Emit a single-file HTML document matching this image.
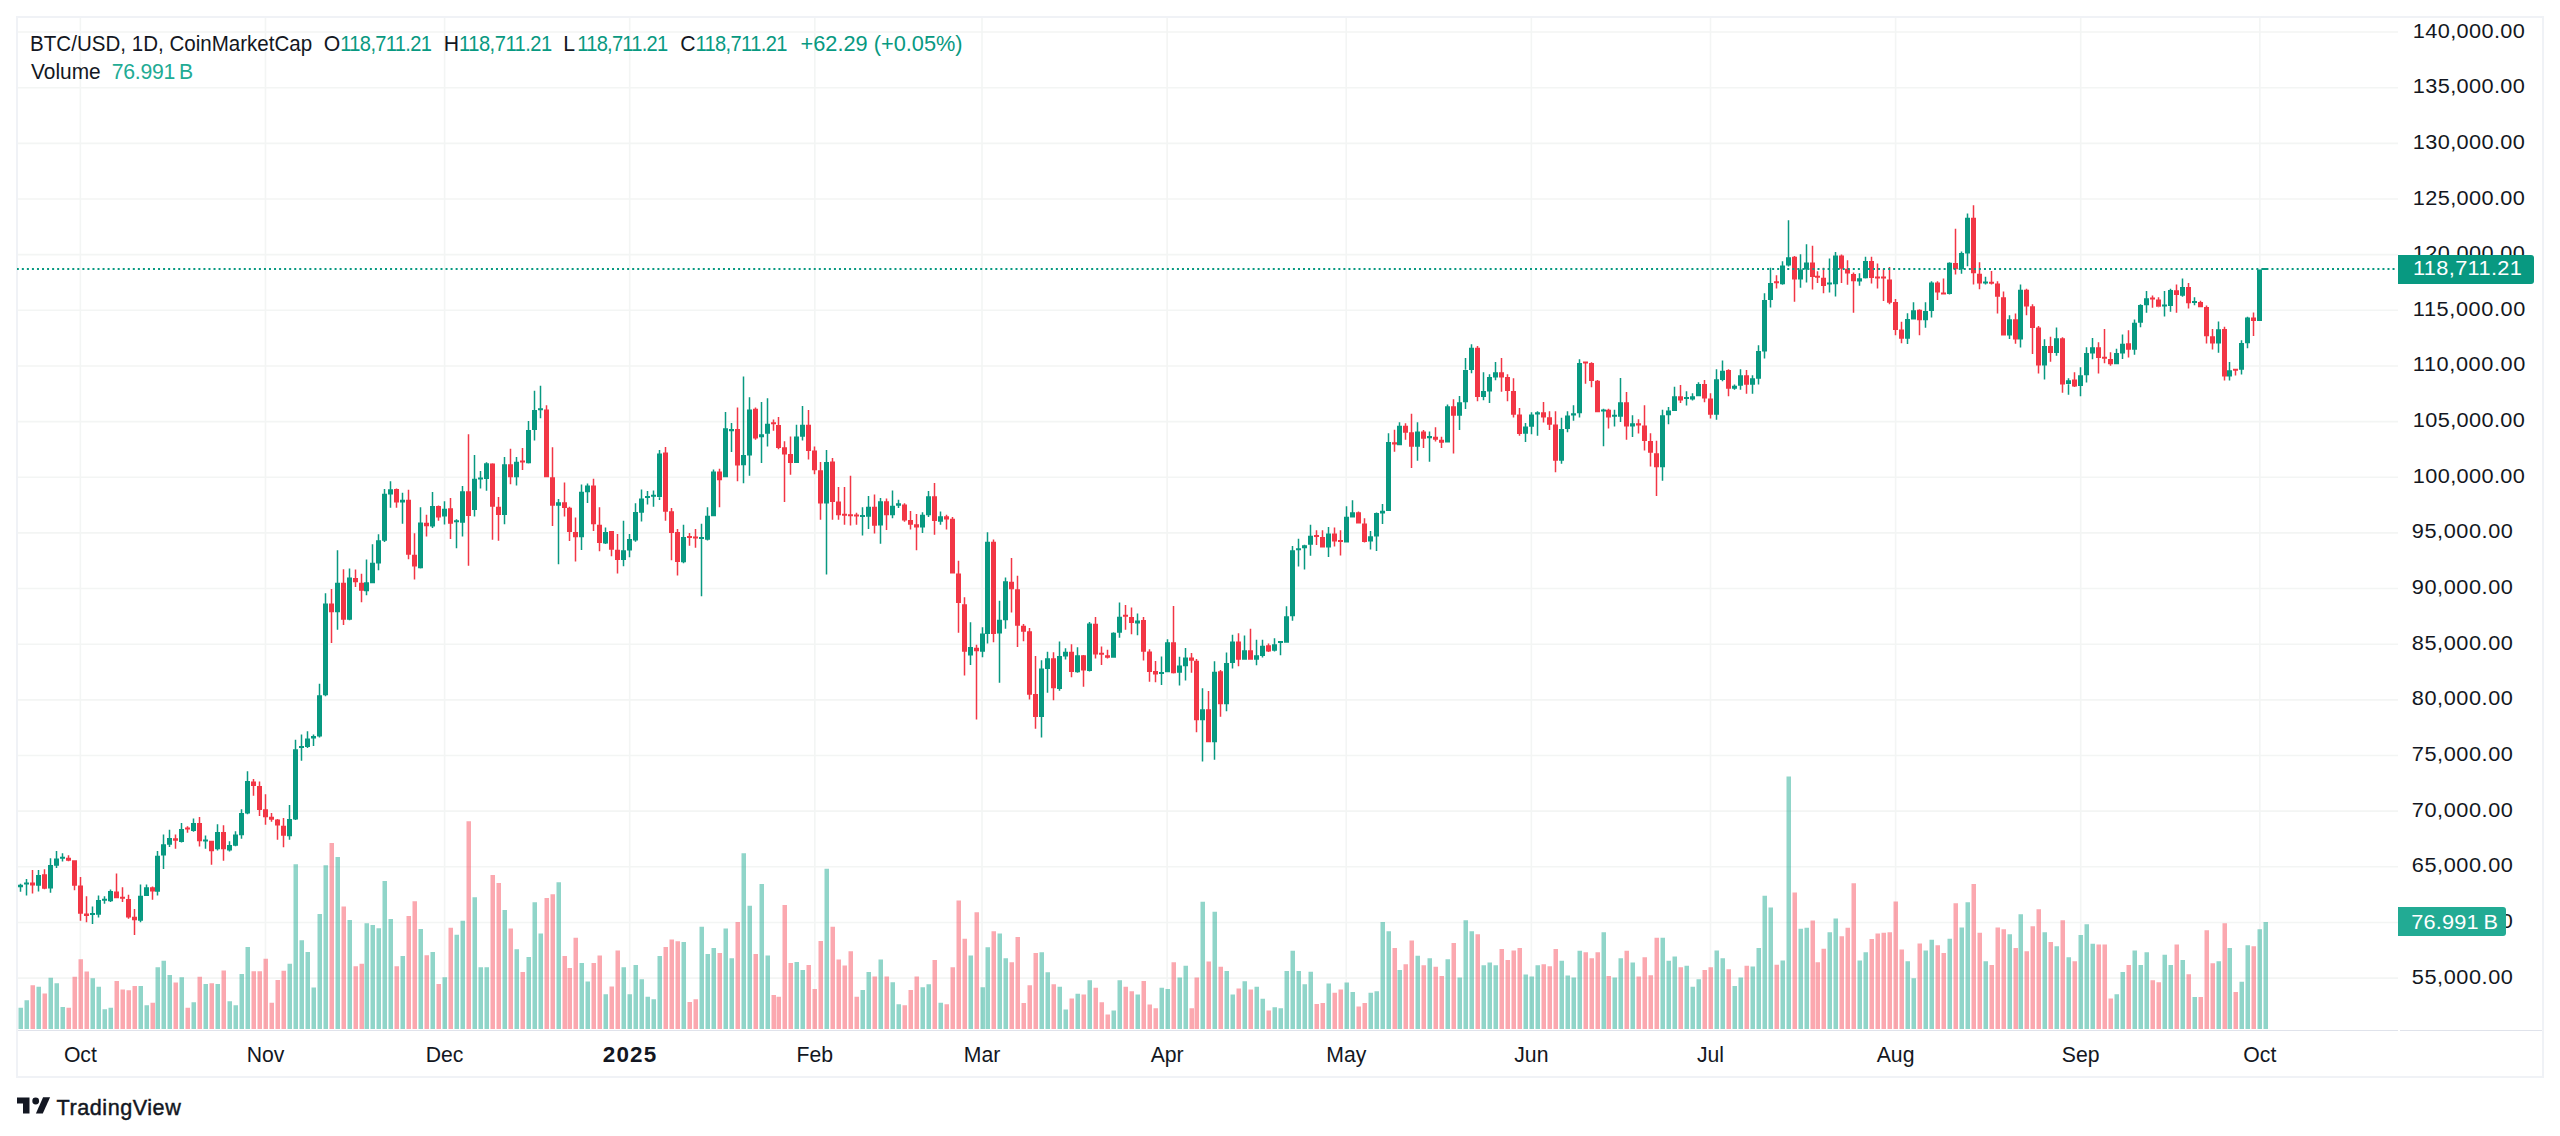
<!DOCTYPE html><html><head><meta charset="utf-8"><title>BTC/USD Chart</title><style>html,body{margin:0;padding:0;background:#ffffff;width:2560px;height:1136px;overflow:hidden}body{position:relative}</style></head><body><svg width="2560" height="1136" viewBox="0 0 2560 1136" style="position:absolute;left:0;top:0;font-family:'Liberation Sans', Arial, sans-serif">
<defs><clipPath id="pane"><rect x="17" y="18" width="2381" height="1011"/></clipPath></defs>
<path fill="#f3f5f4" d="M18 31.25h2380v1.6h-2380zM18 86.90h2380v1.6h-2380zM18 142.55h2380v1.6h-2380zM18 198.20h2380v1.6h-2380zM18 253.85h2380v1.6h-2380zM18 309.50h2380v1.6h-2380zM18 365.15h2380v1.6h-2380zM18 420.80h2380v1.6h-2380zM18 476.45h2380v1.6h-2380zM18 532.10h2380v1.6h-2380zM18 587.75h2380v1.6h-2380zM18 643.40h2380v1.6h-2380zM18 699.05h2380v1.6h-2380zM18 754.70h2380v1.6h-2380zM18 810.35h2380v1.6h-2380zM18 866.00h2380v1.6h-2380zM18 921.65h2380v1.6h-2380zM18 977.30h2380v1.6h-2380zM79.56 18h1.6v1011h-1.6zM264.67 18h1.6v1011h-1.6zM443.80 18h1.6v1011h-1.6zM628.91 18h1.6v1011h-1.6zM814.02 18h1.6v1011h-1.6zM981.21 18h1.6v1011h-1.6zM1166.32 18h1.6v1011h-1.6zM1345.45 18h1.6v1011h-1.6zM1530.56 18h1.6v1011h-1.6zM1709.70 18h1.6v1011h-1.6zM1894.80 18h1.6v1011h-1.6zM2079.91 18h1.6v1011h-1.6zM2259.05 18h1.6v1011h-1.6z"/>
<path fill="#f0f2f6" d="M16 16h2528v2h-2528zM16 1076h2528v2h-2528zM16 16h2v1062h-2zM2542 16h2v1062h-2z"/>
<path fill="#e0e3eb" d="M18 1030h2380v1h-2380zM2400 1030h142v1h-142z"/>
<g clip-path="url(#pane)"><path fill="rgba(34,171,148,0.5)" d="M18.5 1007.82h4.5v21.18h-4.5zM24.5 1000.17h4.5v28.83h-4.5zM36.5 986.84h4.5v42.16h-4.5zM48.5 977.65h4.5v51.35h-4.5zM54.5 983.31h4.5v45.69h-4.5zM60.5 1007.06h4.5v21.94h-4.5zM90.5 978.26h4.5v50.74h-4.5zM96.5 986.84h4.5v42.16h-4.5zM102.5 1009.36h4.5v19.64h-4.5zM108.5 1007.82h4.5v21.18h-4.5zM138.5 985.92h4.5v43.08h-4.5zM144.5 1005.22h4.5v23.78h-4.5zM155.5 967.23h4.5v61.77h-4.5zM161.5 960.80h4.5v68.20h-4.5zM167.5 974.89h4.5v54.11h-4.5zM179.5 977.19h4.5v51.81h-4.5zM191.5 1002.16h4.5v26.84h-4.5zM203.5 984.08h4.5v44.92h-4.5zM215.5 984.08h4.5v44.92h-4.5zM227.5 1001.24h4.5v27.76h-4.5zM233.5 1005.22h4.5v23.78h-4.5zM239.5 974.12h4.5v54.88h-4.5zM245.5 947.01h4.5v81.99h-4.5zM287.5 963.79h4.5v65.21h-4.5zM293.5 864.22h4.5v164.78h-4.5zM299.5 940.13h4.5v88.87h-4.5zM305.5 951.96h4.5v77.04h-4.5zM311.5 987.44h4.5v41.56h-4.5zM317.5 914.10h4.5v114.90h-4.5zM323.5 865.21h4.5v163.79h-4.5zM335.5 856.92h4.5v172.08h-4.5zM347.5 920.02h4.5v108.98h-4.5zM364.5 923.37h4.5v105.63h-4.5zM370.5 924.94h4.5v104.06h-4.5zM376.5 928.30h4.5v100.70h-4.5zM382.5 880.98h4.5v148.02h-4.5zM388.5 919.03h4.5v109.97h-4.5zM400.5 955.90h4.5v73.10h-4.5zM418.5 928.89h4.5v100.11h-4.5zM430.5 951.96h4.5v77.04h-4.5zM442.5 977.19h4.5v51.81h-4.5zM454.5 934.80h4.5v94.20h-4.5zM460.5 920.80h4.5v108.20h-4.5zM472.5 897.15h4.5v131.85h-4.5zM478.5 967.14h4.5v61.86h-4.5zM484.5 967.14h4.5v61.86h-4.5zM502.5 910.01h4.5v118.99h-4.5zM514.5 949.29h4.5v79.71h-4.5zM526.5 956.97h4.5v72.03h-4.5zM532.5 902.33h4.5v126.67h-4.5zM538.5 933.58h4.5v95.42h-4.5zM556.5 882.18h4.5v146.82h-4.5zM579.5 962.95h4.5v66.05h-4.5zM585.5 981.39h4.5v47.61h-4.5zM603.5 994.20h4.5v34.80h-4.5zM621.5 967.22h4.5v61.78h-4.5zM627.5 994.20h4.5v34.80h-4.5zM633.5 965.00h4.5v64.00h-4.5zM639.5 979.17h4.5v49.83h-4.5zM645.5 996.76h4.5v32.24h-4.5zM651.5 999.15h4.5v29.85h-4.5zM657.5 956.12h4.5v72.88h-4.5zM681.5 942.12h4.5v86.88h-4.5zM699.5 926.75h4.5v102.25h-4.5zM705.5 954.07h4.5v74.93h-4.5zM711.5 947.92h4.5v81.08h-4.5zM723.5 928.46h4.5v100.54h-4.5zM729.5 958.17h4.5v70.83h-4.5zM741.5 853.32h4.5v175.68h-4.5zM747.5 905.74h4.5v123.26h-4.5zM759.5 884.06h4.5v144.94h-4.5zM765.5 955.61h4.5v73.39h-4.5zM794.5 962.10h4.5v66.90h-4.5zM800.5 970.12h4.5v58.88h-4.5zM824.5 868.69h4.5v160.31h-4.5zM860.5 989.93h4.5v39.07h-4.5zM866.5 972.00h4.5v57.00h-4.5zM878.5 959.54h4.5v69.46h-4.5zM890.5 982.25h4.5v46.75h-4.5zM896.5 1004.28h4.5v24.72h-4.5zM920.5 987.20h4.5v41.80h-4.5zM926.5 984.30h4.5v44.70h-4.5zM938.5 1002.74h4.5v26.26h-4.5zM968.5 955.61h4.5v73.39h-4.5zM980.5 987.20h4.5v41.80h-4.5zM985.5 947.24h4.5v81.76h-4.5zM997.5 933.58h4.5v95.42h-4.5zM1003.5 958.17h4.5v70.83h-4.5zM1039.5 952.36h4.5v76.64h-4.5zM1045.5 972.34h4.5v56.66h-4.5zM1057.5 986.86h4.5v42.14h-4.5zM1063.5 1009.57h4.5v19.43h-4.5zM1075.5 993.69h4.5v35.31h-4.5zM1087.5 980.37h4.5v48.63h-4.5zM1111.5 1010.42h4.5v18.58h-4.5zM1117.5 980.37h4.5v48.63h-4.5zM1135.5 994.54h4.5v34.46h-4.5zM1159.5 987.71h4.5v41.29h-4.5zM1165.5 989.08h4.5v39.92h-4.5zM1177.5 977.47h4.5v51.53h-4.5zM1183.5 965.85h4.5v63.15h-4.5zM1200.5 901.82h4.5v127.18h-4.5zM1212.5 911.72h4.5v117.28h-4.5zM1224.5 970.98h4.5v58.02h-4.5zM1230.5 994.54h4.5v34.46h-4.5zM1242.5 981.22h4.5v47.78h-4.5zM1254.5 986.86h4.5v42.14h-4.5zM1260.5 998.81h4.5v30.19h-4.5zM1272.5 1007.35h4.5v21.65h-4.5zM1278.5 1008.20h4.5v20.80h-4.5zM1284.5 970.98h4.5v58.02h-4.5zM1290.5 950.66h4.5v78.34h-4.5zM1296.5 970.98h4.5v58.02h-4.5zM1302.5 984.30h4.5v44.70h-4.5zM1308.5 971.83h4.5v57.17h-4.5zM1326.5 983.44h4.5v45.56h-4.5zM1344.5 982.59h4.5v46.41h-4.5zM1350.5 991.98h4.5v37.02h-4.5zM1368.5 992.83h4.5v36.17h-4.5zM1374.5 991.13h4.5v37.87h-4.5zM1380.5 921.97h4.5v107.03h-4.5zM1386.5 931.36h4.5v97.64h-4.5zM1397.5 970.12h4.5v58.88h-4.5zM1415.5 955.78h4.5v73.22h-4.5zM1427.5 958.17h4.5v70.83h-4.5zM1445.5 959.19h4.5v69.81h-4.5zM1457.5 977.47h4.5v51.53h-4.5zM1463.5 920.26h4.5v108.74h-4.5zM1469.5 931.36h4.5v97.64h-4.5zM1481.5 965.17h4.5v63.83h-4.5zM1487.5 962.44h4.5v66.56h-4.5zM1493.5 965.17h4.5v63.83h-4.5zM1523.5 974.39h4.5v54.61h-4.5zM1529.5 976.61h4.5v52.39h-4.5zM1535.5 965.17h4.5v63.83h-4.5zM1559.5 960.73h4.5v68.27h-4.5zM1565.5 975.42h4.5v53.58h-4.5zM1571.5 977.47h4.5v51.53h-4.5zM1577.5 950.66h4.5v78.34h-4.5zM1601.5 932.21h4.5v96.79h-4.5zM1612.5 977.47h4.5v51.53h-4.5zM1618.5 958.17h4.5v70.83h-4.5zM1630.5 962.44h4.5v66.56h-4.5zM1660.5 937.85h4.5v91.15h-4.5zM1666.5 960.73h4.5v68.27h-4.5zM1672.5 956.46h4.5v72.54h-4.5zM1684.5 965.85h4.5v63.15h-4.5zM1690.5 986.86h4.5v42.14h-4.5zM1696.5 979.17h4.5v49.83h-4.5zM1714.5 950.43h4.5v78.57h-4.5zM1720.5 958.22h4.5v70.78h-4.5zM1732.5 986.05h4.5v42.95h-4.5zM1738.5 977.56h4.5v51.44h-4.5zM1750.5 966.47h4.5v62.53h-4.5zM1756.5 948.08h4.5v80.92h-4.5zM1762.5 895.72h4.5v133.28h-4.5zM1768.5 907.51h4.5v121.49h-4.5zM1780.5 960.58h4.5v68.42h-4.5zM1786.5 776.61h4.5v252.39h-4.5zM1798.5 928.74h4.5v100.26h-4.5zM1804.5 927.79h4.5v101.21h-4.5zM1827.5 932.27h4.5v96.73h-4.5zM1833.5 918.59h4.5v110.41h-4.5zM1857.5 960.58h4.5v68.42h-4.5zM1863.5 952.32h4.5v76.68h-4.5zM1905.5 961.28h4.5v67.72h-4.5zM1911.5 978.26h4.5v50.74h-4.5zM1923.5 950.43h4.5v78.57h-4.5zM1929.5 939.82h4.5v89.18h-4.5zM1947.5 938.70h4.5v90.30h-4.5zM1959.5 927.60h4.5v101.40h-4.5zM1965.5 902.33h4.5v126.67h-4.5zM1983.5 961.24h4.5v67.76h-4.5zM2007.5 934.26h4.5v94.74h-4.5zM2018.5 914.28h4.5v114.72h-4.5zM2042.5 932.21h4.5v96.79h-4.5zM2054.5 946.22h4.5v82.78h-4.5zM2066.5 957.14h4.5v71.86h-4.5zM2078.5 935.12h4.5v93.88h-4.5zM2084.5 924.19h4.5v104.81h-4.5zM2090.5 943.65h4.5v85.35h-4.5zM2114.5 994.20h4.5v34.80h-4.5zM2120.5 972.00h4.5v57.00h-4.5zM2132.5 950.48h4.5v78.52h-4.5zM2138.5 965.00h4.5v64.00h-4.5zM2144.5 952.19h4.5v76.81h-4.5zM2162.5 954.75h4.5v74.25h-4.5zM2168.5 965.00h4.5v64.00h-4.5zM2180.5 959.88h4.5v69.12h-4.5zM2192.5 997.10h4.5v31.90h-4.5zM2216.5 961.24h4.5v67.76h-4.5zM2227.5 948.09h4.5v80.91h-4.5zM2239.5 981.73h4.5v47.27h-4.5zM2245.5 945.36h4.5v83.64h-4.5zM2257.5 929.31h4.5v99.69h-4.5zM2263.5 921.97h4.5v107.03h-4.5z"/><path fill="rgba(247,82,95,0.5)" d="M30.5 985.31h4.5v43.69h-4.5zM42.5 993.58h4.5v35.42h-4.5zM66.5 1007.82h4.5v21.18h-4.5zM72.5 976.73h4.5v52.27h-4.5zM78.5 959.26h4.5v69.74h-4.5zM84.5 971.52h4.5v57.48h-4.5zM114.5 981.02h4.5v47.98h-4.5zM120.5 989.44h4.5v39.56h-4.5zM126.5 990.21h4.5v38.79h-4.5zM132.5 985.92h4.5v43.08h-4.5zM150.5 1002.77h4.5v26.23h-4.5zM173.5 982.55h4.5v46.45h-4.5zM185.5 1007.82h4.5v21.18h-4.5zM197.5 976.73h4.5v52.27h-4.5zM209.5 983.31h4.5v45.69h-4.5zM221.5 970.60h4.5v58.40h-4.5zM251.5 971.28h4.5v57.72h-4.5zM257.5 971.28h4.5v57.72h-4.5zM263.5 958.86h4.5v70.14h-4.5zM269.5 1002.82h4.5v26.18h-4.5zM275.5 979.95h4.5v49.05h-4.5zM281.5 970.69h4.5v58.31h-4.5zM329.5 843.12h4.5v185.88h-4.5zM341.5 906.61h4.5v122.39h-4.5zM353.5 966.15h4.5v62.85h-4.5zM359.5 963.79h4.5v65.21h-4.5zM394.5 966.15h4.5v62.85h-4.5zM406.5 915.88h4.5v113.12h-4.5zM412.5 901.29h4.5v127.71h-4.5zM424.5 955.31h4.5v73.69h-4.5zM436.5 983.90h4.5v45.10h-4.5zM448.5 927.71h4.5v101.29h-4.5zM466.5 821.24h4.5v207.76h-4.5zM490.5 875.01h4.5v153.99h-4.5zM496.5 883.03h4.5v145.97h-4.5zM508.5 928.46h4.5v100.54h-4.5zM520.5 972.00h4.5v57.00h-4.5zM544.5 898.06h4.5v130.94h-4.5zM550.5 894.13h4.5v134.87h-4.5zM562.5 956.12h4.5v72.88h-4.5zM567.5 968.07h4.5v60.93h-4.5zM573.5 937.85h4.5v91.15h-4.5zM591.5 962.95h4.5v66.05h-4.5zM597.5 955.61h4.5v73.39h-4.5zM609.5 986.52h4.5v42.48h-4.5zM615.5 950.48h4.5v78.52h-4.5zM663.5 947.07h4.5v81.93h-4.5zM669.5 939.39h4.5v89.61h-4.5zM675.5 941.26h4.5v87.74h-4.5zM687.5 1001.89h4.5v27.11h-4.5zM693.5 999.32h4.5v29.68h-4.5zM717.5 953.05h4.5v75.95h-4.5zM735.5 921.97h4.5v107.03h-4.5zM753.5 954.07h4.5v74.93h-4.5zM771.5 995.05h4.5v33.95h-4.5zM776.5 996.76h4.5v32.24h-4.5zM782.5 904.89h4.5v124.11h-4.5zM788.5 962.95h4.5v66.05h-4.5zM806.5 965.00h4.5v64.00h-4.5zM812.5 989.08h4.5v39.92h-4.5zM818.5 941.09h4.5v87.91h-4.5zM830.5 926.75h4.5v102.25h-4.5zM836.5 959.54h4.5v69.46h-4.5zM842.5 965.51h4.5v63.49h-4.5zM848.5 951.34h4.5v77.66h-4.5zM854.5 996.76h4.5v32.24h-4.5zM872.5 976.61h4.5v52.39h-4.5zM884.5 976.61h4.5v52.39h-4.5zM902.5 1005.13h4.5v23.87h-4.5zM908.5 989.93h4.5v39.07h-4.5zM914.5 976.61h4.5v52.39h-4.5zM932.5 959.88h4.5v69.12h-4.5zM944.5 1004.28h4.5v24.72h-4.5zM950.5 967.22h4.5v61.78h-4.5zM956.5 900.62h4.5v128.38h-4.5zM962.5 938.70h4.5v90.30h-4.5zM974.5 912.23h4.5v116.77h-4.5zM991.5 931.36h4.5v97.64h-4.5zM1009.5 962.27h4.5v66.73h-4.5zM1015.5 936.99h4.5v92.01h-4.5zM1021.5 1003.08h4.5v25.92h-4.5zM1027.5 985.15h4.5v43.85h-4.5zM1033.5 953.05h4.5v75.95h-4.5zM1051.5 984.30h4.5v44.70h-4.5zM1069.5 998.47h4.5v30.53h-4.5zM1081.5 994.54h4.5v34.46h-4.5zM1093.5 987.71h4.5v41.29h-4.5zM1099.5 1002.23h4.5v26.77h-4.5zM1105.5 1014.52h4.5v14.48h-4.5zM1123.5 986.86h4.5v42.14h-4.5zM1129.5 991.13h4.5v37.87h-4.5zM1141.5 981.05h4.5v47.95h-4.5zM1147.5 1004.45h4.5v24.55h-4.5zM1153.5 1008.20h4.5v20.80h-4.5zM1171.5 962.27h4.5v66.73h-4.5zM1189.5 1008.20h4.5v20.80h-4.5zM1194.5 977.47h4.5v51.53h-4.5zM1206.5 961.58h4.5v67.42h-4.5zM1218.5 966.71h4.5v62.29h-4.5zM1236.5 988.57h4.5v40.43h-4.5zM1248.5 989.42h4.5v39.58h-4.5zM1266.5 1010.42h4.5v18.58h-4.5zM1314.5 1003.93h4.5v25.07h-4.5zM1320.5 1003.08h4.5v25.92h-4.5zM1332.5 992.83h4.5v36.17h-4.5zM1338.5 989.42h4.5v39.58h-4.5zM1356.5 1006.50h4.5v22.50h-4.5zM1362.5 1003.08h4.5v25.92h-4.5zM1392.5 948.09h4.5v80.91h-4.5zM1403.5 964.32h4.5v64.68h-4.5zM1409.5 940.41h4.5v88.59h-4.5zM1421.5 965.17h4.5v63.83h-4.5zM1433.5 966.71h4.5v62.29h-4.5zM1439.5 976.10h4.5v52.90h-4.5zM1451.5 942.97h4.5v86.03h-4.5zM1475.5 934.26h4.5v94.74h-4.5zM1499.5 948.95h4.5v80.05h-4.5zM1505.5 959.88h4.5v69.12h-4.5zM1511.5 950.48h4.5v78.52h-4.5zM1517.5 948.09h4.5v80.91h-4.5zM1541.5 964.32h4.5v64.68h-4.5zM1547.5 966.37h4.5v62.63h-4.5zM1553.5 948.95h4.5v80.05h-4.5zM1583.5 952.36h4.5v76.64h-4.5zM1589.5 958.17h4.5v70.83h-4.5zM1595.5 952.36h4.5v76.64h-4.5zM1606.5 976.10h4.5v52.90h-4.5zM1624.5 950.66h4.5v78.34h-4.5zM1636.5 976.61h4.5v52.39h-4.5zM1642.5 957.32h4.5v71.68h-4.5zM1648.5 975.25h4.5v53.75h-4.5zM1654.5 937.85h4.5v91.15h-4.5zM1678.5 967.22h4.5v61.78h-4.5zM1702.5 970.12h4.5v58.88h-4.5zM1708.5 967.18h4.5v61.82h-4.5zM1726.5 969.30h4.5v59.70h-4.5zM1744.5 965.76h4.5v63.24h-4.5zM1774.5 964.82h4.5v64.18h-4.5zM1792.5 892.42h4.5v136.58h-4.5zM1810.5 920.48h4.5v108.52h-4.5zM1815.5 962.23h4.5v66.77h-4.5zM1821.5 948.78h4.5v80.22h-4.5zM1839.5 936.28h4.5v92.72h-4.5zM1845.5 927.79h4.5v101.21h-4.5zM1851.5 883.22h4.5v145.78h-4.5zM1869.5 938.88h4.5v90.12h-4.5zM1875.5 933.45h4.5v95.55h-4.5zM1881.5 932.75h4.5v96.25h-4.5zM1887.5 932.27h4.5v96.73h-4.5zM1893.5 901.61h4.5v127.39h-4.5zM1899.5 949.49h4.5v79.51h-4.5zM1917.5 943.59h4.5v85.41h-4.5zM1935.5 945.36h4.5v83.64h-4.5zM1941.5 953.05h4.5v75.95h-4.5zM1953.5 903.18h4.5v125.82h-4.5zM1971.5 883.89h4.5v145.11h-4.5zM1977.5 932.73h4.5v96.27h-4.5zM1989.5 965.00h4.5v64.00h-4.5zM1995.5 927.60h4.5v101.40h-4.5zM2001.5 929.14h4.5v99.86h-4.5zM2013.5 947.92h4.5v81.08h-4.5zM2024.5 951.34h4.5v77.66h-4.5zM2030.5 926.24h4.5v102.76h-4.5zM2036.5 909.16h4.5v119.84h-4.5zM2048.5 942.12h4.5v86.88h-4.5zM2060.5 920.26h4.5v108.74h-4.5zM2072.5 961.24h4.5v67.76h-4.5zM2096.5 944.51h4.5v84.49h-4.5zM2102.5 944.51h4.5v84.49h-4.5zM2108.5 998.47h4.5v30.53h-4.5zM2126.5 965.00h4.5v64.00h-4.5zM2150.5 980.37h4.5v48.63h-4.5zM2156.5 982.25h4.5v46.75h-4.5zM2174.5 944.51h4.5v84.49h-4.5zM2186.5 974.22h4.5v54.78h-4.5zM2198.5 997.10h4.5v31.90h-4.5zM2204.5 930.16h4.5v98.84h-4.5zM2210.5 963.29h4.5v65.71h-4.5zM2222.5 923.33h4.5v105.67h-4.5zM2233.5 991.98h4.5v37.02h-4.5zM2251.5 946.22h4.5v82.78h-4.5z"/>
<path fill="#089981" d="M12 877.00h5v6.00h-5zM13.75 875.00h1.5v2.00h-1.5zM13.75 883.00h1.5v3.00h-1.5zM18 884.71h5v2.64h-5zM19.75 883.83h1.5v0.88h-1.5zM19.75 887.35h1.5v4.40h-1.5zM24 882.44h5v2.00h-5zM25.75 878.88h1.5v3.57h-1.5zM25.75 884.44h1.5v10.94h-1.5zM36 875.02h5v10.78h-5zM37.75 870.07h1.5v4.95h-1.5zM37.75 885.81h1.5v5.72h-1.5zM48 865.12h5v23.33h-5zM49.75 858.30h1.5v6.82h-1.5zM49.75 888.45h1.5v4.18h-1.5zM54 858.52h5v7.15h-5zM55.75 851.03h1.5v7.48h-1.5zM55.75 865.67h1.5v2.42h-1.5zM60 856.69h5v2.00h-5zM61.75 853.23h1.5v3.46h-1.5zM61.75 858.69h1.5v2.91h-1.5zM90 912.98h5v2.00h-5zM91.75 906.39h1.5v6.59h-1.5zM91.75 914.98h1.5v9.01h-1.5zM96 900.11h5v14.53h-5zM97.75 895.38h1.5v4.73h-1.5zM97.75 914.64h1.5v2.75h-1.5zM102 898.78h5v2.00h-5zM103.75 896.15h1.5v2.63h-1.5zM103.75 900.78h1.5v2.85h-1.5zM108 890.98h5v10.23h-5zM109.75 889.55h1.5v1.43h-1.5zM109.75 901.21h1.5v0.77h-1.5zM138 895.71h5v24.98h-5zM139.75 884.38h1.5v11.33h-1.5zM139.75 920.69h1.5v1.65h-1.5zM144 887.13h5v8.80h-5zM145.75 884.38h1.5v2.75h-1.5zM155 855.77h5v35.99h-5zM156.75 851.03h1.5v4.73h-1.5zM156.75 891.75h1.5v3.63h-1.5zM161 844.19h5v11.34h-5zM162.75 834.57h1.5v9.61h-1.5zM162.75 855.53h1.5v13.56h-1.5zM167 838.02h5v6.78h-5zM168.75 829.64h1.5v8.38h-1.5zM168.75 844.80h1.5v2.10h-1.5zM179 829.03h5v12.94h-5zM180.75 823.11h1.5v5.92h-1.5zM180.75 841.97h1.5v0.62h-1.5zM191 823.11h5v7.77h-5zM192.75 818.55h1.5v4.56h-1.5zM192.75 830.87h1.5v0.86h-1.5zM203 839.43h5v2.00h-5zM204.75 835.43h1.5v3.99h-1.5zM204.75 841.43h1.5v7.32h-1.5zM215 832.11h5v17.26h-5zM216.75 824.34h1.5v7.77h-1.5zM216.75 849.36h1.5v1.23h-1.5zM227 845.05h5v5.55h-5zM228.75 841.35h1.5v3.70h-1.5zM228.75 850.60h1.5v0.86h-1.5zM233 834.57h5v11.09h-5zM234.75 831.24h1.5v3.33h-1.5zM234.75 845.66h1.5v0.62h-1.5zM239 813.00h5v22.19h-5zM240.75 809.30h1.5v3.70h-1.5zM240.75 835.19h1.5v3.45h-1.5zM245 780.95h5v32.66h-5zM246.75 771.34h1.5v9.61h-1.5zM246.75 813.62h1.5v0.62h-1.5zM287 818.92h5v17.26h-5zM288.75 804.99h1.5v13.93h-1.5zM288.75 836.17h1.5v3.70h-1.5zM293 749.20h5v70.20h-5zM294.75 739.70h1.5v9.50h-1.5zM294.75 819.40h1.5v0.60h-1.5zM299 746.00h5v2.11h-5zM300.75 734.38h1.5v11.62h-1.5zM300.75 748.11h1.5v12.68h-1.5zM305 738.61h5v8.45h-5zM306.75 731.21h1.5v7.39h-1.5zM306.75 747.06h1.5v1.06h-1.5zM311 736.07h5v2.54h-5zM312.75 734.38h1.5v1.69h-1.5zM312.75 738.61h1.5v7.39h-1.5zM317 695.29h5v41.20h-5zM318.75 683.67h1.5v11.62h-1.5zM318.75 736.49h1.5v1.06h-1.5zM323 603.38h5v91.91h-5zM324.75 593.24h1.5v10.14h-1.5zM324.75 695.29h1.5v1.06h-1.5zM335 582.68h5v29.58h-5zM336.75 550.14h1.5v32.54h-1.5zM336.75 612.26h1.5v17.54h-1.5zM347 577.61h5v42.26h-5zM348.75 568.52h1.5v9.09h-1.5zM348.75 619.86h1.5v0.42h-1.5zM364 582.26h5v8.87h-5zM365.75 559.44h1.5v22.82h-1.5zM365.75 591.13h1.5v4.23h-1.5zM370 562.82h5v20.49h-5zM371.75 544.23h1.5v18.59h-1.5zM376 540.35h5v23.24h-5zM377.75 534.19h1.5v6.16h-1.5zM377.75 563.59h1.5v6.69h-1.5zM382 493.70h5v47.01h-5zM383.75 488.94h1.5v4.75h-1.5zM383.75 540.70h1.5v1.41h-1.5zM388 489.30h5v5.28h-5zM389.75 481.37h1.5v7.92h-1.5zM389.75 494.58h1.5v13.20h-1.5zM400 499.86h5v2.64h-5zM401.75 492.82h1.5v7.04h-1.5zM401.75 502.50h1.5v21.13h-1.5zM418 522.39h5v45.77h-5zM419.75 507.25h1.5v15.14h-1.5zM419.75 568.17h1.5v0.35h-1.5zM430 506.02h5v20.60h-5zM431.75 492.11h1.5v13.91h-1.5zM431.75 526.62h1.5v1.41h-1.5zM442 508.66h5v7.92h-5zM443.75 501.27h1.5v7.39h-1.5zM443.75 516.58h1.5v7.92h-1.5zM454 520.25h5v2.00h-5zM455.75 519.23h1.5v1.02h-1.5zM455.75 522.25h1.5v26.02h-1.5zM460 491.28h5v31.55h-5zM461.75 486.06h1.5v5.23h-1.5zM461.75 522.83h1.5v13.55h-1.5zM472 478.70h5v31.35h-5zM473.75 455.09h1.5v23.61h-1.5zM473.75 510.06h1.5v6.39h-1.5zM478 477.41h5v2.00h-5zM479.75 470.96h1.5v6.45h-1.5zM479.75 479.41h1.5v8.97h-1.5zM484 463.22h5v15.87h-5zM485.75 462.25h1.5v0.97h-1.5zM485.75 479.09h1.5v11.61h-1.5zM502 464.19h5v50.90h-5zM503.75 457.03h1.5v7.16h-1.5zM503.75 515.09h1.5v9.10h-1.5zM514 461.67h5v15.48h-5zM515.75 457.03h1.5v4.64h-1.5zM515.75 477.16h1.5v8.32h-1.5zM526 429.93h5v33.29h-5zM527.75 421.03h1.5v8.90h-1.5zM527.75 463.22h1.5v0.39h-1.5zM532 410.00h5v19.93h-5zM533.75 390.64h1.5v19.35h-1.5zM533.75 429.93h1.5v10.45h-1.5zM538 408.32h5v2.00h-5zM539.75 385.81h1.5v22.51h-1.5zM539.75 410.32h1.5v8.00h-1.5zM556 502.31h5v3.48h-5zM557.75 499.02h1.5v3.29h-1.5zM557.75 505.80h1.5v58.45h-1.5zM579 491.86h5v45.29h-5zM580.75 484.51h1.5v7.35h-1.5zM580.75 537.15h1.5v12.77h-1.5zM585 485.48h5v6.77h-5zM586.75 483.54h1.5v1.94h-1.5zM586.75 492.25h1.5v10.64h-1.5zM603 531.93h5v11.61h-5zM604.75 527.47h1.5v4.45h-1.5zM604.75 543.54h1.5v0.58h-1.5zM621 550.16h5v9.72h-5zM622.75 520.81h1.5v29.35h-1.5zM622.75 559.88h1.5v6.48h-1.5zM627 539.03h5v11.54h-5zM628.75 533.97h1.5v5.06h-1.5zM628.75 550.57h1.5v6.68h-1.5zM633 512.11h5v28.34h-5zM634.75 503.20h1.5v8.91h-1.5zM634.75 540.45h1.5v1.21h-1.5zM639 498.54h5v14.17h-5zM640.75 489.43h1.5v9.11h-1.5zM640.75 512.71h1.5v8.70h-1.5zM645 495.91h5v2.02h-5zM646.75 491.05h1.5v4.86h-1.5zM646.75 497.94h1.5v6.68h-1.5zM651 494.81h5v2.00h-5zM652.75 490.45h1.5v4.36h-1.5zM652.75 496.81h1.5v9.83h-1.5zM657 453.40h5v43.72h-5zM658.75 449.96h1.5v3.44h-1.5zM658.75 497.13h1.5v2.83h-1.5zM681 537.00h5v25.30h-5zM682.75 524.86h1.5v12.15h-1.5zM682.75 562.31h1.5v1.01h-1.5zM699 537.00h5v2.02h-5zM700.75 523.85h1.5v13.16h-1.5zM700.75 539.03h1.5v57.29h-1.5zM705 515.75h5v23.89h-5zM706.75 507.25h1.5v8.50h-1.5zM706.75 539.64h1.5v0.81h-1.5zM711 471.62h5v44.53h-5zM712.75 469.60h1.5v2.02h-1.5zM723 428.30h5v48.99h-5zM724.75 412.11h1.5v16.19h-1.5zM729 429.11h5v2.02h-5zM730.75 423.04h1.5v6.07h-1.5zM730.75 431.13h1.5v20.85h-1.5zM741 455.02h5v10.12h-5zM742.75 376.48h1.5v78.54h-1.5zM742.75 465.14h1.5v18.22h-1.5zM747 409.47h5v45.95h-5zM748.75 397.33h1.5v12.15h-1.5zM748.75 455.43h1.5v20.24h-1.5zM759 434.37h5v2.83h-5zM760.75 401.98h1.5v32.39h-1.5zM760.75 437.21h1.5v25.91h-1.5zM765 423.64h5v10.12h-5zM766.75 398.34h1.5v25.30h-1.5zM766.75 433.77h1.5v12.75h-1.5zM794 436.40h5v26.72h-5zM795.75 424.66h1.5v11.74h-1.5zM800 424.66h5v12.15h-5zM801.75 406.03h1.5v18.62h-1.5zM801.75 436.80h1.5v3.64h-1.5zM824 462.11h5v41.50h-5zM825.75 449.96h1.5v12.15h-1.5zM825.75 503.60h1.5v70.85h-1.5zM860 515.05h5v2.00h-5zM861.75 507.25h1.5v7.81h-1.5zM861.75 517.05h1.5v18.53h-1.5zM866 506.64h5v10.12h-5zM867.75 495.91h1.5v10.73h-1.5zM867.75 516.76h1.5v12.15h-1.5zM878 501.17h5v24.29h-5zM879.75 497.94h1.5v3.24h-1.5zM879.75 525.47h1.5v18.22h-1.5zM890 505.63h5v9.72h-5zM891.75 490.45h1.5v15.18h-1.5zM891.75 515.34h1.5v2.83h-1.5zM896 503.28h5v2.38h-5zM897.75 499.71h1.5v3.57h-1.5zM897.75 505.65h1.5v2.38h-1.5zM920 514.69h5v12.84h-5zM921.75 512.31h1.5v2.38h-1.5zM921.75 527.52h1.5v5.47h-1.5zM926 496.15h5v19.02h-5zM927.75 490.92h1.5v5.23h-1.5zM927.75 515.16h1.5v1.90h-1.5zM938 516.35h5v5.47h-5zM939.75 511.60h1.5v4.75h-1.5zM939.75 521.82h1.5v2.85h-1.5zM968 647.09h5v8.32h-5zM969.75 622.13h1.5v24.96h-1.5zM969.75 655.41h1.5v9.51h-1.5zM980 633.54h5v18.30h-5zM981.75 627.36h1.5v6.18h-1.5zM981.75 651.84h1.5v5.47h-1.5zM985 541.79h5v92.23h-5zM986.75 532.28h1.5v9.51h-1.5zM986.75 634.01h1.5v9.51h-1.5zM997 619.75h5v13.79h-5zM998.75 600.73h1.5v19.02h-1.5zM998.75 633.54h1.5v49.20h-1.5zM1003 581.24h5v38.98h-5zM1004.75 577.44h1.5v3.80h-1.5zM1004.75 620.23h1.5v8.56h-1.5zM1039 668.60h5v48.49h-5zM1040.75 660.23h1.5v8.36h-1.5zM1040.75 717.09h1.5v20.40h-1.5zM1045 658.23h5v10.70h-5zM1046.75 651.87h1.5v6.35h-1.5zM1046.75 668.93h1.5v23.91h-1.5zM1057 656.05h5v32.94h-5zM1058.75 641.51h1.5v14.55h-1.5zM1058.75 689.00h1.5v1.67h-1.5zM1063 651.87h5v4.68h-5zM1064.75 648.19h1.5v3.68h-1.5zM1064.75 656.56h1.5v2.84h-1.5zM1075 655.22h5v17.06h-5zM1076.75 647.19h1.5v8.03h-1.5zM1076.75 672.27h1.5v0.50h-1.5zM1087 623.44h5v47.66h-5zM1088.75 622.11h1.5v1.34h-1.5zM1088.75 671.10h1.5v0.50h-1.5zM1111 632.64h5v25.08h-5zM1112.75 632.14h1.5v0.50h-1.5zM1117 616.76h5v15.89h-5zM1118.75 602.54h1.5v14.21h-1.5zM1118.75 632.64h1.5v5.02h-1.5zM1135 620.43h5v3.01h-5zM1136.75 613.41h1.5v7.02h-1.5zM1136.75 623.44h1.5v11.71h-1.5zM1159 672.11h5v2.00h-5zM1160.75 656.56h1.5v15.56h-1.5zM1160.75 674.11h1.5v10.87h-1.5zM1165 642.17h5v30.10h-5zM1166.75 639.33h1.5v2.84h-1.5zM1177 665.59h5v7.26h-5zM1178.75 656.79h1.5v8.80h-1.5zM1178.75 672.85h1.5v12.54h-1.5zM1183 657.45h5v8.80h-5zM1184.75 648.00h1.5v9.46h-1.5zM1184.75 666.25h1.5v14.30h-1.5zM1200 709.14h5v11.00h-5zM1201.75 688.24h1.5v20.89h-1.5zM1201.75 720.13h1.5v41.35h-1.5zM1212 671.75h5v70.38h-5zM1213.75 661.19h1.5v10.56h-1.5zM1213.75 742.12h1.5v17.59h-1.5zM1224 662.95h5v41.35h-5zM1225.75 652.39h1.5v10.56h-1.5zM1225.75 704.30h1.5v7.04h-1.5zM1230 641.40h5v21.55h-5zM1231.75 634.80h1.5v6.60h-1.5zM1231.75 662.95h1.5v5.50h-1.5zM1242 650.20h5v9.46h-5zM1243.75 635.46h1.5v14.73h-1.5zM1254 655.25h5v4.40h-5zM1255.75 639.86h1.5v15.39h-1.5zM1255.75 659.65h1.5v5.50h-1.5zM1260 645.80h5v10.12h-5zM1261.75 639.86h1.5v5.94h-1.5zM1261.75 655.91h1.5v1.54h-1.5zM1272 644.26h5v6.60h-5zM1273.75 638.32h1.5v5.94h-1.5zM1273.75 650.86h1.5v0.66h-1.5zM1278 641.06h5v2.00h-5zM1279.75 643.06h1.5v12.20h-1.5zM1284 616.33h5v26.39h-5zM1285.75 606.21h1.5v10.12h-1.5zM1290 550.35h5v65.98h-5zM1291.75 545.95h1.5v4.40h-1.5zM1291.75 616.33h1.5v4.40h-1.5zM1296 548.15h5v2.20h-5zM1297.75 538.69h1.5v9.46h-1.5zM1297.75 550.35h1.5v16.27h-1.5zM1302 545.29h5v2.86h-5zM1303.75 544.63h1.5v0.66h-1.5zM1303.75 548.15h1.5v21.33h-1.5zM1308 535.83h5v8.80h-5zM1309.75 524.84h1.5v11.00h-1.5zM1309.75 544.63h1.5v11.00h-1.5zM1326 533.53h5v13.92h-5zM1327.75 526.95h1.5v6.59h-1.5zM1327.75 547.46h1.5v9.43h-1.5zM1344 516.77h5v25.75h-5zM1345.75 506.29h1.5v10.48h-1.5zM1350 512.28h5v5.24h-5zM1351.75 500.30h1.5v11.98h-1.5zM1368 536.23h5v5.24h-5zM1369.75 530.99h1.5v5.24h-1.5zM1369.75 541.47h1.5v7.93h-1.5zM1374 513.02h5v23.50h-5zM1375.75 512.57h1.5v0.45h-1.5zM1375.75 536.53h1.5v14.37h-1.5zM1380 510.78h5v2.69h-5zM1381.75 504.04h1.5v6.74h-1.5zM1381.75 513.47h1.5v10.48h-1.5zM1386 441.92h5v69.16h-5zM1387.75 433.23h1.5v8.68h-1.5zM1397 425.75h5v19.46h-5zM1398.75 422.16h1.5v3.59h-1.5zM1415 431.44h5v15.27h-5zM1416.75 422.16h1.5v9.28h-1.5zM1416.75 446.71h1.5v13.92h-1.5zM1427 435.93h5v2.25h-5zM1428.75 431.44h1.5v4.49h-1.5zM1428.75 438.17h1.5v23.50h-1.5zM1445 406.32h5v36.18h-5zM1446.75 404.61h1.5v1.72h-1.5zM1457 402.36h5v13.47h-5zM1458.75 396.02h1.5v6.34h-1.5zM1458.75 415.83h1.5v14.26h-1.5zM1463 369.88h5v32.48h-5zM1464.75 357.99h1.5v11.88h-1.5zM1464.75 402.36h1.5v6.60h-1.5zM1469 347.83h5v22.05h-5zM1470.75 344.26h1.5v3.57h-1.5zM1470.75 369.88h1.5v3.43h-1.5zM1481 391.01h5v6.07h-5zM1482.75 372.26h1.5v18.75h-1.5zM1482.75 397.08h1.5v3.17h-1.5zM1487 376.88h5v14.53h-5zM1488.75 374.24h1.5v2.64h-1.5zM1488.75 391.40h1.5v11.49h-1.5zM1493 372.26h5v5.28h-5zM1494.75 361.96h1.5v10.30h-1.5zM1494.75 377.54h1.5v2.64h-1.5zM1523 426.40h5v7.26h-5zM1524.75 423.09h1.5v3.30h-1.5zM1524.75 433.66h1.5v8.32h-1.5zM1529 414.51h5v12.15h-5zM1530.75 412.13h1.5v2.38h-1.5zM1530.75 426.66h1.5v7.66h-1.5zM1535 412.13h5v2.38h-5zM1536.75 411.21h1.5v0.92h-1.5zM1536.75 414.51h1.5v21.13h-1.5zM1559 429.04h5v31.69h-5zM1560.75 417.81h1.5v11.22h-1.5zM1560.75 460.73h1.5v2.91h-1.5zM1565 415.57h5v13.47h-5zM1566.75 411.21h1.5v4.36h-1.5zM1566.75 429.04h1.5v3.30h-1.5zM1571 413.19h5v2.38h-5zM1572.75 405.27h1.5v7.92h-1.5zM1572.75 415.57h1.5v5.28h-1.5zM1577 363.01h5v50.18h-5zM1578.75 359.31h1.5v3.70h-1.5zM1578.75 413.19h1.5v4.23h-1.5zM1601 409.54h5v2.00h-5zM1602.75 408.76h1.5v0.78h-1.5zM1602.75 411.54h1.5v34.59h-1.5zM1612 414.63h5v2.00h-5zM1613.75 409.69h1.5v4.94h-1.5zM1613.75 416.63h1.5v9.96h-1.5zM1618 402.16h5v14.53h-5zM1619.75 377.99h1.5v24.16h-1.5zM1619.75 416.68h1.5v5.28h-1.5zM1630 423.29h5v3.30h-5zM1631.75 415.36h1.5v7.92h-1.5zM1631.75 426.59h1.5v10.30h-1.5zM1660 415.36h5v51.89h-5zM1661.75 409.69h1.5v5.68h-1.5zM1661.75 467.26h1.5v13.47h-1.5zM1666 410.48h5v4.89h-5zM1667.75 407.04h1.5v3.43h-1.5zM1667.75 415.36h1.5v8.85h-1.5zM1672 396.22h5v14.79h-5zM1673.75 386.71h1.5v9.51h-1.5zM1684 397.07h5v2.00h-5zM1685.75 391.20h1.5v5.87h-1.5zM1685.75 399.07h1.5v6.39h-1.5zM1690 396.22h5v3.30h-5zM1691.75 393.31h1.5v2.91h-1.5zM1691.75 399.52h1.5v0.92h-1.5zM1696 384.07h5v12.15h-5zM1697.75 382.35h1.5v1.72h-1.5zM1714 379.31h5v35.39h-5zM1715.75 369.15h1.5v10.17h-1.5zM1715.75 414.70h1.5v5.02h-1.5zM1720 370.77h5v9.15h-5zM1721.75 360.56h1.5v10.21h-1.5zM1721.75 379.93h1.5v1.41h-1.5zM1732 385.74h5v2.99h-5zM1733.75 384.51h1.5v1.23h-1.5zM1733.75 388.73h1.5v1.06h-1.5zM1738 375.18h5v10.56h-5zM1739.75 369.37h1.5v5.81h-1.5zM1739.75 385.74h1.5v4.05h-1.5zM1750 378.17h5v6.69h-5zM1751.75 375.18h1.5v2.99h-1.5zM1751.75 384.86h1.5v8.80h-1.5zM1756 351.06h5v27.64h-5zM1757.75 345.25h1.5v5.81h-1.5zM1757.75 378.70h1.5v5.81h-1.5zM1762 300.00h5v51.41h-5zM1763.75 293.31h1.5v6.69h-1.5zM1763.75 351.41h1.5v7.04h-1.5zM1768 283.10h5v16.90h-5zM1769.75 267.78h1.5v15.32h-1.5zM1769.75 300.00h1.5v7.39h-1.5zM1780 265.49h5v18.66h-5zM1781.75 261.27h1.5v4.23h-1.5zM1781.75 284.15h1.5v0.70h-1.5zM1786 257.22h5v8.27h-5zM1787.75 220.25h1.5v36.97h-1.5zM1787.75 265.49h1.5v1.06h-1.5zM1798 269.54h5v10.04h-5zM1799.75 254.23h1.5v15.32h-1.5zM1799.75 279.58h1.5v8.10h-1.5zM1804 262.50h5v7.04h-5zM1805.75 244.37h1.5v18.13h-1.5zM1805.75 269.54h1.5v12.85h-1.5zM1827 282.45h5v2.00h-5zM1828.75 258.45h1.5v24.00h-1.5zM1828.75 284.45h1.5v7.98h-1.5zM1833 255.46h5v28.70h-5zM1834.75 251.94h1.5v3.52h-1.5zM1834.75 284.15h1.5v12.32h-1.5zM1857 278.17h5v3.43h-5zM1858.75 273.29h1.5v4.89h-1.5zM1858.75 281.61h1.5v4.23h-1.5zM1863 261.01h5v17.17h-5zM1864.75 256.78h1.5v4.23h-1.5zM1864.75 278.17h1.5v0.40h-1.5zM1905 319.11h5v19.54h-5zM1906.75 313.30h1.5v5.81h-1.5zM1906.75 338.65h1.5v5.28h-1.5zM1911 310.26h5v9.24h-5zM1912.75 302.34h1.5v7.92h-1.5zM1923 310.92h5v9.24h-5zM1924.75 302.34h1.5v8.58h-1.5zM1924.75 320.16h1.5v7.66h-1.5zM1929 282.53h5v28.39h-5zM1930.75 281.21h1.5v1.32h-1.5zM1930.75 310.92h1.5v6.60h-1.5zM1947 262.72h5v31.30h-5zM1948.75 262.33h1.5v0.40h-1.5zM1948.75 294.02h1.5v0.40h-1.5zM1959 253.08h5v16.24h-5zM1960.75 251.50h1.5v1.58h-1.5zM1960.75 269.33h1.5v4.36h-1.5zM1965 217.83h5v35.65h-5zM1966.75 213.47h1.5v4.36h-1.5zM1966.75 253.48h1.5v12.81h-1.5zM1983 281.53h5v2.00h-5zM1984.75 276.85h1.5v4.68h-1.5zM1984.75 283.53h1.5v0.98h-1.5zM2007 319.16h5v16.37h-5zM2008.75 315.20h1.5v3.96h-1.5zM2008.75 335.53h1.5v3.43h-1.5zM2018 289.71h5v49.78h-5zM2019.75 284.43h1.5v5.28h-1.5zM2019.75 339.49h1.5v7.92h-1.5zM2042 346.10h5v19.28h-5zM2043.75 339.23h1.5v6.87h-1.5zM2043.75 365.37h1.5v14.13h-1.5zM2054 338.17h5v14.92h-5zM2055.75 327.61h1.5v10.56h-1.5zM2055.75 353.09h1.5v2.64h-1.5zM2066 380.16h5v3.96h-5zM2067.75 378.18h1.5v1.98h-1.5zM2067.75 384.13h1.5v10.56h-1.5zM2078 375.15h5v10.96h-5zM2079.75 367.22h1.5v7.92h-1.5zM2079.75 386.11h1.5v10.17h-1.5zM2084 353.09h5v22.05h-5zM2085.75 347.15h1.5v5.94h-1.5zM2085.75 375.15h1.5v7.39h-1.5zM2090 347.15h5v6.34h-5zM2091.75 337.91h1.5v9.24h-1.5zM2091.75 353.49h1.5v5.81h-1.5zM2114 353.09h5v11.22h-5zM2115.75 348.74h1.5v4.36h-1.5zM2120 343.85h5v9.64h-5zM2121.75 334.61h1.5v9.24h-1.5zM2121.75 353.49h1.5v5.55h-1.5zM2132 322.72h5v27.07h-5zM2133.75 319.42h1.5v3.30h-1.5zM2133.75 349.79h1.5v5.02h-1.5zM2138 304.90h5v17.83h-5zM2139.75 304.24h1.5v0.66h-1.5zM2139.75 322.72h1.5v4.62h-1.5zM2144 298.29h5v6.87h-5zM2145.75 291.03h1.5v7.26h-1.5zM2145.75 305.16h1.5v7.66h-1.5zM2162 304.56h5v2.00h-5zM2163.75 291.03h1.5v13.53h-1.5zM2163.75 306.56h1.5v9.96h-1.5zM2168 290.11h5v15.85h-5zM2169.75 288.79h1.5v1.32h-1.5zM2169.75 305.95h1.5v5.81h-1.5zM2180 287.07h5v8.58h-5zM2181.75 278.49h1.5v8.58h-1.5zM2181.75 295.65h1.5v1.06h-1.5zM2192 301.06h5v2.00h-5zM2193.75 297.24h1.5v3.82h-1.5zM2193.75 303.06h1.5v2.10h-1.5zM2216 329.33h5v14.13h-5zM2217.75 321.40h1.5v7.92h-1.5zM2217.75 343.45h1.5v9.24h-1.5zM2227 370.26h5v6.21h-5zM2228.75 361.94h1.5v8.32h-1.5zM2228.75 376.47h1.5v3.96h-1.5zM2239 342.93h5v26.94h-5zM2240.75 340.29h1.5v2.64h-1.5zM2240.75 369.86h1.5v4.75h-1.5zM2245 317.44h5v25.75h-5zM2246.75 316.78h1.5v0.66h-1.5zM2246.75 343.19h1.5v5.02h-1.5zM2257 269.51h5v51.50h-5zM2263 268h5v2h-5z"/><path fill="#F23645" d="M30 882.51h5v2.97h-5zM31.75 870.07h1.5v12.44h-1.5zM31.75 885.48h1.5v8.03h-1.5zM42 874.25h5v14.53h-5zM43.75 869.30h1.5v4.95h-1.5zM43.75 888.78h1.5v0.55h-1.5zM66 857.64h5v3.08h-5zM67.75 855.22h1.5v2.42h-1.5zM67.75 860.72h1.5v0.55h-1.5zM72 860.17h5v25.64h-5zM73.75 885.81h1.5v4.40h-1.5zM78 885.48h5v28.28h-5zM79.75 877.00h1.5v8.47h-1.5zM79.75 913.76h1.5v6.93h-1.5zM84 913.54h5v2.42h-5zM85.75 896.15h1.5v17.39h-1.5zM85.75 915.96h1.5v6.38h-1.5zM114 891.53h5v6.82h-5zM115.75 873.59h1.5v17.94h-1.5zM120 896.86h5v2.00h-5zM121.75 887.13h1.5v9.73h-1.5zM121.75 898.86h1.5v3.13h-1.5zM126 899.01h5v18.38h-5zM127.75 894.83h1.5v4.18h-1.5zM127.75 917.39h1.5v1.43h-1.5zM132 916.84h5v3.52h-5zM133.75 908.92h1.5v7.92h-1.5zM133.75 920.36h1.5v14.64h-1.5zM150 887.35h5v4.18h-5zM151.75 886.58h1.5v0.77h-1.5zM151.75 891.53h1.5v8.25h-1.5zM173 838.27h5v2.47h-5zM174.75 834.57h1.5v3.70h-1.5zM174.75 840.73h1.5v8.01h-1.5zM185 827.41h5v2.00h-5zM186.75 826.19h1.5v1.22h-1.5zM186.75 829.41h1.5v3.31h-1.5zM197 823.11h5v18.24h-5zM198.75 816.95h1.5v6.16h-1.5zM198.75 841.35h1.5v5.18h-1.5zM209 840.73h5v10.48h-5zM210.75 851.21h1.5v13.56h-1.5zM221 832.11h5v17.26h-5zM222.75 825.33h1.5v6.78h-1.5zM222.75 849.36h1.5v11.46h-1.5zM251 781.57h5v4.31h-5zM252.75 779.11h1.5v2.47h-1.5zM252.75 785.88h1.5v9.86h-1.5zM257 785.88h5v24.04h-5zM258.75 781.57h1.5v4.31h-1.5zM258.75 809.92h1.5v6.16h-1.5zM263 809.30h5v8.01h-5zM264.75 794.27h1.5v15.04h-1.5zM264.75 817.32h1.5v7.40h-1.5zM269 816.70h5v3.08h-5zM270.75 813.00h1.5v3.70h-1.5zM270.75 819.78h1.5v1.85h-1.5zM275 819.41h5v6.16h-5zM276.75 818.92h1.5v0.49h-1.5zM276.75 825.57h1.5v14.30h-1.5zM281 825.70h5v10.11h-5zM282.75 817.93h1.5v7.77h-1.5zM282.75 835.80h1.5v11.46h-1.5zM329 603.38h5v8.87h-5zM330.75 589.02h1.5v14.37h-1.5zM330.75 612.26h1.5v30.64h-1.5zM341 582.68h5v37.19h-5zM342.75 569.16h1.5v13.52h-1.5zM342.75 619.86h1.5v5.07h-1.5zM353 578.03h5v4.23h-5zM354.75 569.58h1.5v8.45h-1.5zM354.75 582.26h1.5v4.65h-1.5zM359 582.68h5v8.03h-5zM360.75 573.81h1.5v8.87h-1.5zM360.75 590.71h1.5v11.62h-1.5zM394 488.94h5v13.56h-5zM395.75 488.42h1.5v0.53h-1.5zM395.75 502.50h1.5v5.28h-1.5zM406 499.86h5v54.93h-5zM407.75 489.65h1.5v10.21h-1.5zM407.75 554.79h1.5v4.58h-1.5zM412 554.79h5v11.62h-5zM413.75 533.31h1.5v21.48h-1.5zM413.75 566.41h1.5v13.03h-1.5zM424 522.75h5v3.52h-5zM425.75 514.82h1.5v7.92h-1.5zM425.75 526.27h1.5v10.21h-1.5zM436 506.02h5v11.44h-5zM437.75 505.49h1.5v0.53h-1.5zM437.75 517.46h1.5v3.17h-1.5zM448 508.31h5v15.32h-5zM449.75 498.10h1.5v10.21h-1.5zM449.75 523.63h1.5v15.32h-1.5zM466 491.28h5v24.77h-5zM467.75 434.19h1.5v57.09h-1.5zM467.75 516.06h1.5v49.74h-1.5zM490 463.61h5v43.16h-5zM491.75 463.22h1.5v0.39h-1.5zM491.75 506.77h1.5v32.90h-1.5zM496 506.77h5v8.32h-5zM497.75 497.09h1.5v9.68h-1.5zM497.75 515.09h1.5v25.55h-1.5zM508 464.19h5v12.97h-5zM509.75 448.71h1.5v15.48h-1.5zM509.75 477.16h1.5v6.97h-1.5zM520 460.58h5v2.00h-5zM521.75 448.12h1.5v12.45h-1.5zM521.75 462.58h1.5v7.42h-1.5zM544 409.42h5v67.74h-5zM545.75 405.16h1.5v4.26h-1.5zM550 477.16h5v28.64h-5zM551.75 447.35h1.5v29.80h-1.5zM551.75 505.80h1.5v20.32h-1.5zM562 502.31h5v5.81h-5zM563.75 482.57h1.5v19.74h-1.5zM563.75 508.12h1.5v8.32h-1.5zM567 507.73h5v24.19h-5zM568.75 506.77h1.5v0.97h-1.5zM568.75 531.93h1.5v9.10h-1.5zM573 531.93h5v5.23h-5zM574.75 517.41h1.5v14.52h-1.5zM574.75 537.15h1.5v24.39h-1.5zM591 485.48h5v38.71h-5zM592.75 478.70h1.5v6.77h-1.5zM592.75 524.18h1.5v6.77h-1.5zM597 524.76h5v18.19h-5zM598.75 507.35h1.5v17.42h-1.5zM598.75 542.96h1.5v8.32h-1.5zM609 530.93h5v18.83h-5zM610.75 549.76h1.5v6.48h-1.5zM615 549.76h5v10.12h-5zM616.75 533.97h1.5v15.79h-1.5zM616.75 559.88h1.5v13.56h-1.5zM663 452.59h5v59.11h-5zM664.75 446.92h1.5v5.67h-1.5zM664.75 511.70h1.5v9.11h-1.5zM669 511.30h5v21.66h-5zM670.75 508.06h1.5v3.24h-1.5zM670.75 532.96h1.5v27.33h-1.5zM675 531.94h5v29.96h-5zM676.75 528.91h1.5v3.04h-1.5zM676.75 561.90h1.5v13.56h-1.5zM687 535.99h5v2.02h-5zM688.75 532.96h1.5v3.04h-1.5zM688.75 538.02h1.5v7.69h-1.5zM693 536.40h5v2.02h-5zM694.75 528.91h1.5v7.49h-1.5zM694.75 538.42h1.5v9.31h-1.5zM717 471.62h5v8.70h-5zM718.75 468.79h1.5v2.83h-1.5zM718.75 480.32h1.5v26.92h-1.5zM735 429.11h5v36.44h-5zM736.75 407.45h1.5v21.66h-1.5zM736.75 465.55h1.5v15.79h-1.5zM753 408.87h5v29.55h-5zM754.75 407.45h1.5v1.42h-1.5zM754.75 438.42h1.5v1.42h-1.5zM771 422.23h5v2.02h-5zM772.75 419.60h1.5v2.63h-1.5zM772.75 424.25h1.5v6.48h-1.5zM776 425.06h5v22.87h-5zM777.75 416.96h1.5v8.10h-1.5zM777.75 447.94h1.5v1.42h-1.5zM782 447.33h5v7.29h-5zM783.75 441.26h1.5v6.07h-1.5zM783.75 454.62h1.5v47.37h-1.5zM788 454.01h5v9.11h-5zM789.75 436.40h1.5v17.61h-1.5zM789.75 463.12h1.5v11.74h-1.5zM806 424.66h5v26.32h-5zM807.75 410.08h1.5v14.57h-1.5zM807.75 450.97h1.5v8.50h-1.5zM812 450.57h5v19.64h-5zM813.75 446.52h1.5v4.05h-1.5zM813.75 470.20h1.5v4.05h-1.5zM818 470.20h5v33.40h-5zM819.75 462.11h1.5v8.10h-1.5zM819.75 503.60h1.5v16.19h-1.5zM830 461.50h5v40.49h-5zM831.75 458.06h1.5v3.44h-1.5zM831.75 501.98h1.5v17.81h-1.5zM836 501.58h5v13.77h-5zM837.75 487.00h1.5v14.57h-1.5zM837.75 515.34h1.5v4.45h-1.5zM842 513.74h5v2.00h-5zM843.75 487.00h1.5v26.73h-1.5zM843.75 515.74h1.5v9.12h-1.5zM848 514.24h5v2.00h-5zM849.75 475.67h1.5v38.57h-1.5zM849.75 516.24h1.5v9.22h-1.5zM854 514.45h5v2.00h-5zM855.75 512.71h1.5v1.73h-1.5zM855.75 516.45h1.5v8.41h-1.5zM872 506.64h5v19.23h-5zM873.75 494.49h1.5v12.15h-1.5zM873.75 525.87h1.5v7.69h-1.5zM884 501.17h5v14.17h-5zM885.75 498.54h1.5v2.63h-1.5zM885.75 515.34h1.5v14.57h-1.5zM902 504.47h5v15.93h-5zM903.75 503.28h1.5v1.19h-1.5zM903.75 520.39h1.5v1.43h-1.5zM908 519.92h5v4.75h-5zM909.75 510.88h1.5v9.03h-1.5zM909.75 524.67h1.5v4.75h-1.5zM914 524.20h5v3.33h-5zM915.75 513.97h1.5v10.22h-1.5zM915.75 527.52h1.5v22.82h-1.5zM932 496.15h5v24.96h-5zM933.75 483.07h1.5v13.07h-1.5zM933.75 521.11h1.5v13.55h-1.5zM944 516.35h5v3.09h-5zM945.75 514.69h1.5v1.66h-1.5zM945.75 519.44h1.5v9.98h-1.5zM950 518.73h5v54.67h-5zM951.75 517.06h1.5v1.66h-1.5zM956 573.40h5v29.71h-5zM957.75 560.80h1.5v12.60h-1.5zM957.75 603.11h1.5v29.71h-1.5zM962 604.30h5v47.54h-5zM963.75 597.17h1.5v7.13h-1.5zM963.75 651.84h1.5v23.77h-1.5zM974 647.80h5v3.33h-5zM975.75 644.71h1.5v3.09h-1.5zM975.75 651.13h1.5v68.46h-1.5zM991 541.79h5v92.23h-5zM992.75 539.41h1.5v2.38h-1.5zM992.75 634.01h1.5v8.32h-1.5zM1009 581.72h5v7.61h-5zM1010.75 557.95h1.5v23.77h-1.5zM1010.75 589.32h1.5v23.29h-1.5zM1015 589.32h5v36.37h-5zM1016.75 575.78h1.5v13.55h-1.5zM1016.75 625.69h1.5v21.39h-1.5zM1021 625.69h5v5.94h-5zM1022.75 624.03h1.5v1.66h-1.5zM1022.75 631.64h1.5v9.51h-1.5zM1027 631.16h5v63.47h-5zM1028.75 628.07h1.5v3.09h-1.5zM1028.75 694.63h1.5v4.75h-1.5zM1033 694.01h5v23.08h-5zM1034.75 656.05h1.5v37.96h-1.5zM1034.75 717.09h1.5v11.71h-1.5zM1051 658.23h5v30.10h-5zM1052.75 652.21h1.5v6.02h-1.5zM1052.75 688.33h1.5v12.04h-1.5zM1069 651.87h5v20.07h-5zM1070.75 644.35h1.5v7.53h-1.5zM1070.75 671.94h1.5v5.35h-1.5zM1081 655.22h5v15.38h-5zM1082.75 654.88h1.5v0.33h-1.5zM1082.75 670.60h1.5v16.05h-1.5zM1093 623.78h5v30.60h-5zM1094.75 617.09h1.5v6.69h-1.5zM1094.75 654.38h1.5v4.18h-1.5zM1099 652.80h5v2.00h-5zM1100.75 646.52h1.5v6.27h-1.5zM1100.75 654.80h1.5v10.12h-1.5zM1105 655.22h5v2.51h-5zM1106.75 649.87h1.5v5.35h-1.5zM1106.75 657.73h1.5v0.84h-1.5zM1123 614.75h5v2.00h-5zM1124.75 605.05h1.5v9.70h-1.5zM1124.75 616.75h1.5v13.05h-1.5zM1129 617.09h5v6.02h-5zM1130.75 607.56h1.5v9.53h-1.5zM1130.75 623.11h1.5v11.20h-1.5zM1141 620.10h5v31.77h-5zM1142.75 617.09h1.5v3.01h-1.5zM1142.75 651.87h1.5v8.70h-1.5zM1147 651.54h5v20.40h-5zM1148.75 649.36h1.5v2.17h-1.5zM1148.75 671.94h1.5v9.70h-1.5zM1153 671.10h5v3.34h-5zM1154.75 661.07h1.5v10.03h-1.5zM1154.75 674.45h1.5v7.86h-1.5zM1171 642.17h5v31.10h-5zM1172.75 605.89h1.5v36.29h-1.5zM1172.75 673.28h1.5v0.33h-1.5zM1189 657.45h5v3.30h-5zM1190.75 653.05h1.5v4.40h-1.5zM1190.75 660.75h1.5v12.10h-1.5zM1194 660.75h5v59.38h-5zM1195.75 658.99h1.5v1.76h-1.5zM1195.75 720.13h1.5v12.10h-1.5zM1206 709.14h5v32.99h-5zM1207.75 691.10h1.5v18.03h-1.5zM1218 671.31h5v32.99h-5zM1219.75 669.99h1.5v1.32h-1.5zM1219.75 704.30h1.5v12.54h-1.5zM1236 641.40h5v18.25h-5zM1237.75 633.26h1.5v8.14h-1.5zM1237.75 659.65h1.5v6.60h-1.5zM1248 650.20h5v9.46h-5zM1249.75 628.86h1.5v21.33h-1.5zM1266 645.36h5v6.16h-5zM1267.75 643.60h1.5v1.76h-1.5zM1267.75 651.52h1.5v0.44h-1.5zM1314 535.00h5v2.00h-5zM1315.75 530.24h1.5v4.76h-1.5zM1315.75 537.00h1.5v7.91h-1.5zM1320 536.98h5v10.48h-5zM1321.75 530.24h1.5v6.74h-1.5zM1332 533.53h5v7.93h-5zM1333.75 527.54h1.5v5.99h-1.5zM1333.75 541.47h1.5v4.94h-1.5zM1338 539.94h5v2.00h-5zM1339.75 530.24h1.5v9.70h-1.5zM1339.75 541.94h1.5v13.45h-1.5zM1356 512.28h5v11.23h-5zM1357.75 511.53h1.5v0.75h-1.5zM1362 523.50h5v18.41h-5zM1363.75 518.26h1.5v5.24h-1.5zM1363.75 541.92h1.5v0.60h-1.5zM1392 442.22h5v2.40h-5zM1393.75 429.64h1.5v12.57h-1.5zM1393.75 444.61h1.5v7.04h-1.5zM1403 425.75h5v6.89h-5zM1404.75 423.20h1.5v2.54h-1.5zM1404.75 432.63h1.5v7.04h-1.5zM1409 432.19h5v14.52h-5zM1410.75 413.77h1.5v18.41h-1.5zM1410.75 446.71h1.5v21.41h-1.5zM1421 431.44h5v7.19h-5zM1422.75 429.94h1.5v1.50h-1.5zM1422.75 438.62h1.5v9.28h-1.5zM1433 436.68h5v2.99h-5zM1434.75 427.25h1.5v9.43h-1.5zM1434.75 439.67h1.5v1.95h-1.5zM1439 439.67h5v2.99h-5zM1440.75 436.68h1.5v2.99h-1.5zM1440.75 442.66h1.5v5.24h-1.5zM1451 406.32h5v9.51h-5zM1452.75 399.33h1.5v7.00h-1.5zM1452.75 415.83h1.5v37.63h-1.5zM1475 347.83h5v49.25h-5zM1476.75 346.11h1.5v1.72h-1.5zM1476.75 397.08h1.5v4.23h-1.5zM1499 372.26h5v5.28h-5zM1500.75 357.99h1.5v14.26h-1.5zM1500.75 377.54h1.5v14.26h-1.5zM1505 376.88h5v14.13h-5zM1506.75 374.24h1.5v2.64h-1.5zM1506.75 391.01h1.5v10.30h-1.5zM1511 391.01h5v23.77h-5zM1512.75 378.20h1.5v12.81h-1.5zM1512.75 414.77h1.5v2.64h-1.5zM1517 414.51h5v19.54h-5zM1518.75 407.91h1.5v6.60h-1.5zM1518.75 434.05h1.5v1.58h-1.5zM1541 412.13h5v5.28h-5zM1542.75 401.97h1.5v10.17h-1.5zM1542.75 417.42h1.5v5.02h-1.5zM1547 417.15h5v7.66h-5zM1548.75 411.21h1.5v5.94h-1.5zM1548.75 424.81h1.5v5.28h-1.5zM1553 424.41h5v36.31h-5zM1554.75 411.21h1.5v13.20h-1.5zM1554.75 460.73h1.5v11.62h-1.5zM1583 361.54h5v2.00h-5zM1584.75 363.54h1.5v20.13h-1.5zM1589 362.94h5v18.09h-5zM1590.75 362.15h1.5v0.79h-1.5zM1590.75 381.03h1.5v6.21h-1.5zM1595 380.64h5v31.69h-5zM1596.75 380.11h1.5v0.53h-1.5zM1606 409.69h5v7.92h-5zM1607.75 408.76h1.5v0.92h-1.5zM1607.75 417.61h1.5v10.96h-1.5zM1624 402.16h5v24.43h-5zM1625.75 391.99h1.5v10.17h-1.5zM1625.75 426.59h1.5v13.20h-1.5zM1636 423.29h5v2.24h-5zM1637.75 419.33h1.5v3.96h-1.5zM1637.75 425.53h1.5v7.92h-1.5zM1642 425.53h5v15.58h-5zM1643.75 405.20h1.5v20.34h-1.5zM1643.75 441.11h1.5v9.51h-1.5zM1648 441.11h5v11.62h-5zM1649.75 433.19h1.5v7.92h-1.5zM1649.75 452.73h1.5v13.73h-1.5zM1654 453.26h5v14.00h-5zM1655.75 440.85h1.5v12.41h-1.5zM1655.75 467.26h1.5v28.65h-1.5zM1678 396.22h5v4.23h-5zM1679.75 384.99h1.5v11.22h-1.5zM1679.75 400.44h1.5v2.64h-1.5zM1702 384.07h5v14.53h-5zM1703.75 380.11h1.5v3.96h-1.5zM1703.75 398.59h1.5v3.57h-1.5zM1708 398.59h5v16.11h-5zM1709.75 393.31h1.5v5.28h-1.5zM1709.75 414.70h1.5v3.70h-1.5zM1726 369.89h5v18.84h-5zM1727.75 369.37h1.5v0.53h-1.5zM1727.75 388.73h1.5v7.57h-1.5zM1744 375.18h5v9.68h-5zM1745.75 369.89h1.5v5.28h-1.5zM1745.75 384.86h1.5v8.80h-1.5zM1774 281.22h5v2.00h-5zM1775.75 275.35h1.5v5.87h-1.5zM1775.75 283.22h1.5v5.16h-1.5zM1792 256.69h5v22.89h-5zM1793.75 255.99h1.5v0.70h-1.5zM1793.75 279.58h1.5v22.18h-1.5zM1810 262.50h5v14.61h-5zM1811.75 245.77h1.5v16.73h-1.5zM1811.75 277.11h1.5v12.32h-1.5zM1815 275.76h5v2.00h-5zM1816.75 271.30h1.5v4.46h-1.5zM1816.75 277.76h1.5v5.34h-1.5zM1821 277.82h5v8.10h-5zM1822.75 267.78h1.5v10.04h-1.5zM1822.75 285.92h1.5v7.39h-1.5zM1839 255.46h5v13.20h-5zM1840.75 254.58h1.5v0.88h-1.5zM1840.75 268.66h1.5v14.44h-1.5zM1845 268.66h5v4.93h-5zM1846.75 260.21h1.5v8.45h-1.5zM1846.75 273.59h1.5v11.27h-1.5zM1851 273.94h5v7.39h-5zM1852.75 272.54h1.5v1.41h-1.5zM1852.75 281.34h1.5v31.34h-1.5zM1869 261.01h5v16.90h-5zM1870.75 256.78h1.5v4.23h-1.5zM1870.75 277.91h1.5v5.55h-1.5zM1875 276.58h5v2.00h-5zM1876.75 263.38h1.5v13.20h-1.5zM1876.75 278.58h1.5v9.89h-1.5zM1881 276.38h5v2.00h-5zM1882.75 268.66h1.5v7.72h-1.5zM1882.75 278.38h1.5v22.64h-1.5zM1887 279.49h5v23.24h-5zM1888.75 267.08h1.5v12.41h-1.5zM1888.75 302.73h1.5v1.58h-1.5zM1893 301.94h5v28.13h-5zM1894.75 299.04h1.5v2.91h-1.5zM1894.75 330.07h1.5v5.28h-1.5zM1899 329.41h5v9.24h-5zM1900.75 321.75h1.5v7.66h-1.5zM1900.75 338.65h1.5v4.62h-1.5zM1917 309.86h5v10.30h-5zM1918.75 309.34h1.5v0.53h-1.5zM1918.75 320.16h1.5v15.19h-1.5zM1935 282.53h5v9.90h-5zM1936.75 281.21h1.5v1.32h-1.5zM1936.75 292.43h1.5v7.66h-1.5zM1941 292.56h5v2.00h-5zM1942.75 278.57h1.5v13.99h-1.5zM1953 263.12h5v6.21h-5zM1954.75 228.79h1.5v34.33h-1.5zM1954.75 269.33h1.5v5.28h-1.5zM1971 217.83h5v55.46h-5zM1972.75 205.28h1.5v12.54h-1.5zM1972.75 273.29h1.5v11.22h-1.5zM1977 273.68h5v9.77h-5zM1978.75 262.33h1.5v11.36h-1.5zM1978.75 283.45h1.5v5.68h-1.5zM1989 281.66h5v2.00h-5zM1990.75 271.04h1.5v10.62h-1.5zM1990.75 283.66h1.5v0.85h-1.5zM1995 283.50h5v13.20h-5zM1996.75 281.13h1.5v2.38h-1.5zM1996.75 296.71h1.5v16.77h-1.5zM2001 297.24h5v38.29h-5zM2002.75 291.43h1.5v5.81h-1.5zM2013 319.16h5v20.34h-5zM2014.75 313.48h1.5v5.68h-1.5zM2014.75 339.49h1.5v4.36h-1.5zM2024 289.71h5v16.77h-5zM2025.75 288.79h1.5v0.92h-1.5zM2025.75 306.48h1.5v8.72h-1.5zM2030 306.22h5v21.79h-5zM2031.75 304.24h1.5v1.98h-1.5zM2031.75 328.00h1.5v26.01h-1.5zM2036 327.61h5v37.77h-5zM2037.75 326.02h1.5v1.58h-1.5zM2037.75 365.37h1.5v8.19h-1.5zM2048 346.10h5v7.00h-5zM2049.75 336.85h1.5v9.24h-1.5zM2049.75 353.09h1.5v8.58h-1.5zM2060 338.17h5v46.22h-5zM2061.75 337.25h1.5v0.92h-1.5zM2061.75 384.39h1.5v8.32h-1.5zM2072 379.50h5v7.00h-5zM2073.75 372.24h1.5v7.26h-1.5zM2073.75 386.50h1.5v0.53h-1.5zM2096 347.15h5v10.83h-5zM2097.75 342.13h1.5v5.02h-1.5zM2097.75 357.98h1.5v15.58h-1.5zM2102 356.72h5v2.00h-5zM2103.75 328.93h1.5v27.79h-1.5zM2103.75 358.72h1.5v4.55h-1.5zM2108 359.04h5v5.28h-5zM2109.75 352.17h1.5v6.87h-1.5zM2109.75 364.32h1.5v1.32h-1.5zM2126 343.19h5v6.60h-5zM2127.75 330.25h1.5v12.94h-1.5zM2127.75 349.79h1.5v7.66h-1.5zM2150 297.62h5v2.00h-5zM2151.75 295.39h1.5v2.24h-1.5zM2151.75 299.62h1.5v8.18h-1.5zM2156 299.61h5v7.26h-5zM2157.75 297.24h1.5v2.38h-1.5zM2157.75 306.88h1.5v0.40h-1.5zM2174 290.37h5v4.62h-5zM2175.75 284.43h1.5v5.94h-1.5zM2175.75 294.99h1.5v17.83h-1.5zM2186 287.07h5v16.24h-5zM2187.75 283.11h1.5v3.96h-1.5zM2187.75 303.31h1.5v5.28h-1.5zM2198 301.99h5v5.28h-5zM2199.75 300.67h1.5v1.32h-1.5zM2204 306.88h5v29.45h-5zM2205.75 305.56h1.5v1.32h-1.5zM2205.75 336.32h1.5v7.13h-1.5zM2210 336.32h5v7.13h-5zM2211.75 328.93h1.5v7.39h-1.5zM2211.75 343.45h1.5v6.07h-1.5zM2222 328.93h5v47.54h-5zM2223.75 326.68h1.5v2.24h-1.5zM2223.75 376.47h1.5v3.96h-1.5zM2233 368.80h5v2.00h-5zM2234.75 370.80h1.5v4.74h-1.5zM2251 317.44h5v3.57h-5zM2252.75 312.56h1.5v4.89h-1.5zM2252.75 321.01h1.5v14.92h-1.5z"/>
<line x1="16.8" y1="269" x2="2395" y2="269" stroke="#089981" stroke-width="2" stroke-dasharray="2 3.044"/>
</g>
<text transform="translate(2412.84 37.55) scale(1.0600 1)" x="0" y="0" style="font-size:20.5px;font-weight:normal;fill:#131722;letter-spacing:0.350px">140,000.00</text>
<text transform="translate(2412.84 93.20) scale(1.0600 1)" x="0" y="0" style="font-size:20.5px;font-weight:normal;fill:#131722;letter-spacing:0.350px">135,000.00</text>
<text transform="translate(2412.84 148.85) scale(1.0600 1)" x="0" y="0" style="font-size:20.5px;font-weight:normal;fill:#131722;letter-spacing:0.350px">130,000.00</text>
<text transform="translate(2412.84 204.50) scale(1.0600 1)" x="0" y="0" style="font-size:20.5px;font-weight:normal;fill:#131722;letter-spacing:0.350px">125,000.00</text>
<text transform="translate(2412.84 260.15) scale(1.0600 1)" x="0" y="0" style="font-size:20.5px;font-weight:normal;fill:#131722;letter-spacing:0.350px">120,000.00</text>
<text transform="translate(2412.84 315.80) scale(1.0600 1)" x="0" y="0" style="font-size:20.5px;font-weight:normal;fill:#131722;letter-spacing:0.572px">115,000.00</text>
<text transform="translate(2412.84 371.45) scale(1.0600 1)" x="0" y="0" style="font-size:20.5px;font-weight:normal;fill:#131722;letter-spacing:0.572px">110,000.00</text>
<text transform="translate(2412.84 427.10) scale(1.0600 1)" x="0" y="0" style="font-size:20.5px;font-weight:normal;fill:#131722;letter-spacing:0.350px">105,000.00</text>
<text transform="translate(2412.84 482.75) scale(1.0600 1)" x="0" y="0" style="font-size:20.5px;font-weight:normal;fill:#131722;letter-spacing:0.350px">100,000.00</text>
<text transform="translate(2411.74 538.40) scale(1.0600 1)" x="0" y="0" style="font-size:20.5px;font-weight:normal;fill:#131722;letter-spacing:0.538px">95,000.00</text>
<text transform="translate(2411.74 594.05) scale(1.0600 1)" x="0" y="0" style="font-size:20.5px;font-weight:normal;fill:#131722;letter-spacing:0.538px">90,000.00</text>
<text transform="translate(2411.74 649.70) scale(1.0600 1)" x="0" y="0" style="font-size:20.5px;font-weight:normal;fill:#131722;letter-spacing:0.538px">85,000.00</text>
<text transform="translate(2411.74 705.35) scale(1.0600 1)" x="0" y="0" style="font-size:20.5px;font-weight:normal;fill:#131722;letter-spacing:0.538px">80,000.00</text>
<text transform="translate(2411.74 761.00) scale(1.0600 1)" x="0" y="0" style="font-size:20.5px;font-weight:normal;fill:#131722;letter-spacing:0.538px">75,000.00</text>
<text transform="translate(2411.74 816.65) scale(1.0600 1)" x="0" y="0" style="font-size:20.5px;font-weight:normal;fill:#131722;letter-spacing:0.538px">70,000.00</text>
<text transform="translate(2411.74 872.30) scale(1.0600 1)" x="0" y="0" style="font-size:20.5px;font-weight:normal;fill:#131722;letter-spacing:0.538px">65,000.00</text>
<text transform="translate(2411.74 927.95) scale(1.0600 1)" x="0" y="0" style="font-size:20.5px;font-weight:normal;fill:#131722;letter-spacing:0.538px">60,000.00</text>
<text transform="translate(2411.74 983.60) scale(1.0600 1)" x="0" y="0" style="font-size:20.5px;font-weight:normal;fill:#131722;letter-spacing:0.538px">55,000.00</text>
<path fill="#089981" d="M2398 255h133a3 3 0 0 1 3 3v23a3 3 0 0 1 -3 3h-133z"/>
<path fill="#22ab94" d="M2398 907h105a3 3 0 0 1 3 3v23a3 3 0 0 1 -3 3h-105z"/>
<text transform="translate(30.06 50.60) scale(0.9701 1)" x="0" y="0" style="font-size:21.2px;font-weight:normal;fill:#131722;letter-spacing:0.000px">BTC/USD, 1D, CoinMarketCap</text>
<text x="323.70" y="50.60" style="font-size:21.2px;font-weight:normal;fill:#131722">O</text>
<text transform="translate(340.35 50.60) scale(0.9500 1)" x="0" y="0" style="font-size:21.2px;font-weight:normal;fill:#089981;letter-spacing:-0.719px">118,711.21</text>
<text x="443.80" y="50.60" style="font-size:21.2px;font-weight:normal;fill:#131722">H</text>
<text transform="translate(459.05 50.60) scale(0.9500 1)" x="0" y="0" style="font-size:21.2px;font-weight:normal;fill:#089981;letter-spacing:-0.532px">118,711.21</text>
<text x="563.30" y="50.60" style="font-size:21.2px;font-weight:normal;fill:#131722">L</text>
<text transform="translate(577.25 50.60) scale(0.9500 1)" x="0" y="0" style="font-size:21.2px;font-weight:normal;fill:#089981;letter-spacing:-0.789px">118,711.21</text>
<text x="680.30" y="50.60" style="font-size:21.2px;font-weight:normal;fill:#131722">C</text>
<text transform="translate(695.45 50.60) scale(0.9500 1)" x="0" y="0" style="font-size:21.2px;font-weight:normal;fill:#089981;letter-spacing:-0.673px">118,711.21</text>
<text transform="translate(800.57 50.60) scale(1.0263 1)" x="0" y="0" style="font-size:21.2px;font-weight:normal;fill:#089981;letter-spacing:0.000px">+62.29 (+0.05%)</text>
<text transform="translate(31.00 79.00) scale(0.9857 1)" x="0" y="0" style="font-size:21.2px;font-weight:normal;fill:#131722;letter-spacing:0.000px">Volume</text>
<text x="111.80" y="79.00" style="font-size:21.2px;font-weight:normal;fill:#22ab94;letter-spacing:-0.271px">76.991 B</text>
<text x="80.36" y="1061.70" text-anchor="middle" style="font-size:21.2px;font-weight:normal;fill:#131722">Oct</text>
<text x="265.47" y="1061.70" text-anchor="middle" style="font-size:21.2px;font-weight:normal;fill:#131722">Nov</text>
<text x="444.60" y="1061.70" text-anchor="middle" style="font-size:21.2px;font-weight:normal;fill:#131722">Dec</text>
<text transform="translate(602.84 1061.70) scale(1.0600 1)" x="0" y="0" style="font-size:21.2px;font-weight:bold;fill:#131722;letter-spacing:1.082px">2025</text>
<text x="814.82" y="1061.70" text-anchor="middle" style="font-size:21.2px;font-weight:normal;fill:#131722">Feb</text>
<text x="982.01" y="1061.70" text-anchor="middle" style="font-size:21.2px;font-weight:normal;fill:#131722">Mar</text>
<text x="1167.12" y="1061.70" text-anchor="middle" style="font-size:21.2px;font-weight:normal;fill:#131722">Apr</text>
<text x="1346.25" y="1061.70" text-anchor="middle" style="font-size:21.2px;font-weight:normal;fill:#131722">May</text>
<text x="1531.36" y="1061.70" text-anchor="middle" style="font-size:21.2px;font-weight:normal;fill:#131722">Jun</text>
<text x="1710.50" y="1061.70" text-anchor="middle" style="font-size:21.2px;font-weight:normal;fill:#131722">Jul</text>
<text x="1895.60" y="1061.70" text-anchor="middle" style="font-size:21.2px;font-weight:normal;fill:#131722">Aug</text>
<text x="2080.71" y="1061.70" text-anchor="middle" style="font-size:21.2px;font-weight:normal;fill:#131722">Sep</text>
<text x="2259.85" y="1061.70" text-anchor="middle" style="font-size:21.2px;font-weight:normal;fill:#131722">Oct</text>
<text transform="translate(2413.04 275.20) scale(1.0600 1)" x="0" y="0" style="font-size:20.5px;font-weight:normal;fill:#ffffff;letter-spacing:0.348px">118,711.21</text>
<text transform="translate(2411.24 928.60) scale(1.0600 1)" x="0" y="0" style="font-size:20.5px;font-weight:normal;fill:#ffffff;letter-spacing:0.191px">76.991 B</text>
<text x="56.60" y="1114.70" style="font-size:21.6px;font-weight:normal;fill:#131722;stroke:#131722;stroke-width:0.45px;letter-spacing:0.530px">TradingView</text>
<g fill="#131722"><path d="M17 1097.5h12.5v16h-6.5v-10h-6z"/><circle cx="35.7" cy="1101" r="3.4"/><path d="M43.1 1097.2h7l-7.3 16.4h-6.9z"/></g>
</svg></body></html>
